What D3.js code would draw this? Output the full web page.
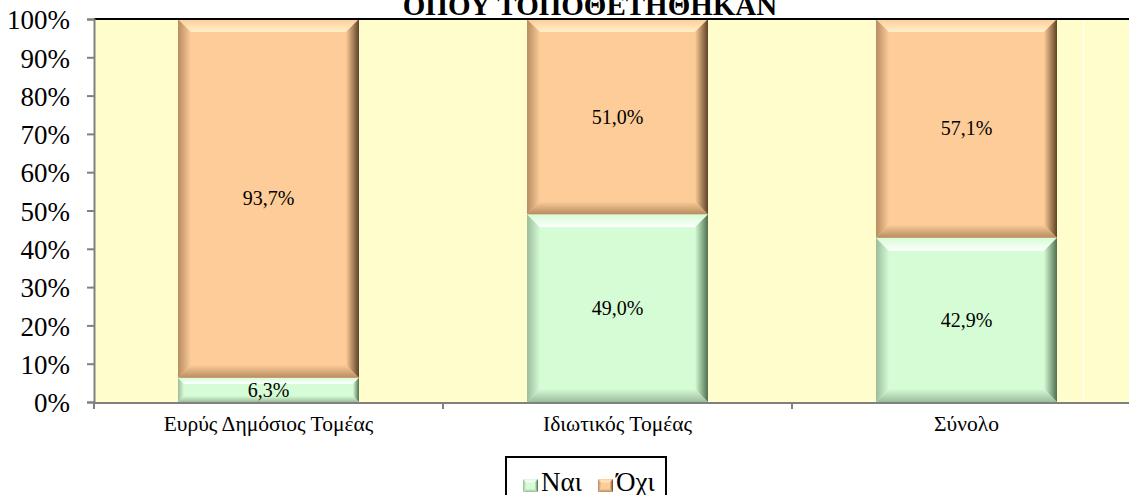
<!DOCTYPE html>
<html><head><meta charset="utf-8">
<script src="https://cdn.jsdelivr.net/npm/d3@7"></script>
<style>body{margin:0;background:#fff;overflow:hidden}svg{display:block}svg text{font-family:"Liberation Serif","Times New Roman",serif}</style>
</head><body><svg id="c" width="1129" height="495"></svg>
<script>
const categories = ["Ευρύς Δημόσιος Τομέας", "Ιδιωτικός Τομέας", "Σύνολο"];
const seriesNames = ["Ναι", "Όχι"];
const yesValues = [6.3, 49.0, 42.9];
const noValues = [93.7, 51.0, 57.1];
const yTicks = [0,10,20,30,40,50,60,70,80,90,100];
const titleText = "ΟΠΟΥ ΤΟΠΟΘΕΤΗΘΗΚΑΝ";

(function(){
const svg = d3.select("#c");
const W = 1129, H = 495;
const pL = 94, pR = 1141, pT = 19, pB = 402;
const x = d3.scaleBand().domain(categories).range([pL, pR]).paddingInner(0.4814).paddingOuter(0.2407);
const y = d3.scaleLinear().domain([0,100]).range([pB, pT]);

const colors = {
  "Ναι": {face:"#d5fcd5", light:"#ffffff", dark:"#4f6f4f", mid:"#9cbc9c"},
  "Όχι": {face:"#fdcc98", light:"#fff0c8", dark:"#5e4226", mid:"#b78c62"}
};
const defs = svg.append("defs");
Object.entries(colors).forEach(([k,c],i)=>{
  const id = "s"+i;
  let g = defs.append("linearGradient").attr("id",id+"top").attr("x1",0).attr("y1",0).attr("x2",0).attr("y2",1);
  g.append("stop").attr("offset","0").attr("stop-color",c.face);
  g.append("stop").attr("offset","1").attr("stop-color",c.light);
  g = defs.append("linearGradient").attr("id",id+"right").attr("x1",0).attr("y1",0).attr("x2",1).attr("y2",0);
  g.append("stop").attr("offset","0").attr("stop-color",c.face);
  g.append("stop").attr("offset","1").attr("stop-color",c.dark);
  g = defs.append("linearGradient").attr("id",id+"bottom").attr("x1",0).attr("y1",0).attr("x2",0).attr("y2",1);
  g.append("stop").attr("offset","0").attr("stop-color",c.face);
  g.append("stop").attr("offset","1").attr("stop-color",c.mid);
  g = defs.append("linearGradient").attr("id",id+"left").attr("x1",0).attr("y1",0).attr("x2",1).attr("y2",0);
  g.append("stop").attr("offset","0").attr("stop-color",c.mid);
  g.append("stop").attr("offset","1").attr("stop-color",c.face);
});

svg.append("rect").attr("x",pL).attr("y",pT).attr("width",W-pL).attr("height",pB-pT).attr("fill","#fffdcc");
svg.append("line").attr("x1",1083.5).attr("x2",1083.5).attr("y1",pT).attr("y2",pB).attr("stroke","#ffffff").attr("stroke-width",1);

svg.append("text").attr("x",590).attr("y",15).attr("text-anchor","middle").attr("font-size",29).attr("font-weight","bold").text(titleText);

const rows = categories.map((c,i)=>({cat:c, "Ναι":yesValues[i], "Όχι":noValues[i]}));
const stack = d3.stack().keys(seriesNames)(rows);

function bevelBar(g, x0, y0, w, h, key, bmax){
  const id = "s"+seriesNames.indexOf(key);
  const c = colors[key];
  const b = Math.min(bmax||13, h/4);
  g.append("rect").attr("x",x0).attr("y",y0).attr("width",w).attr("height",h).attr("fill",c.face);
  const poly = (pts, fill)=>g.append("polygon").attr("points",pts.map(p=>p.join(",")).join(" ")).attr("fill",fill);
  poly([[x0,y0],[x0+b,y0+b],[x0+b,y0+h-b],[x0,y0+h]], `url(#${id}left)`);
  poly([[x0,y0+h],[x0+w,y0+h],[x0+w-b,y0+h-b],[x0+b,y0+h-b]], `url(#${id}bottom)`);
  poly([[x0,y0],[x0+w,y0],[x0+w-b,y0+b],[x0+b,y0+b]], `url(#${id}top)`);
  poly([[x0+w,y0],[x0+w-b,y0+b],[x0+w-b,y0+h-b],[x0+w,y0+h]], `url(#${id}right)`);
}

stack.forEach(s=>{
  const g = svg.append("g");
  s.forEach(d=>{
    const x0 = x(d.data.cat), y0 = y(d[1]), h = y(d[0]) - y(d[1]);
    bevelBar(g, x0, y0, x.bandwidth(), h, s.key);
  });
});
stack.forEach(s=>{
  s.forEach(d=>{
    const v = d[1]-d[0];
    svg.append("text").attr("x",x(d.data.cat)+x.bandwidth()/2).attr("y",(y(d[0])+y(d[1]))/2+7)
      .attr("text-anchor","middle").attr("font-size",20).attr("fill","#000")
      .text(v.toFixed(1).replace(".",",")+"%");
  });
});

svg.append("line").attr("x1",pL).attr("x2",W).attr("y1",pT).attr("y2",pT).attr("stroke","#000").attr("stroke-width",2);

const yAxis = d3.axisLeft(y).tickValues(yTicks).tickFormat(d=>d+"%").tickSize(7).tickPadding(17);
const ya = svg.append("g").attr("transform",`translate(${pL},0)`).call(yAxis);
ya.attr("font-family",null);
ya.select(".domain").attr("stroke","#808080").attr("stroke-width",2);
ya.selectAll(".tick line").attr("stroke","#808080").attr("stroke-width",2);
ya.selectAll(".tick text").attr("font-size",27).attr("fill","#000").attr("dy","0.36em");

const xa = svg.append("g").attr("transform",`translate(0,${pB})`).call(d3.axisBottom(x).tickSize(0).tickPadding(14));
xa.attr("font-family",null);
xa.select(".domain").remove();
xa.selectAll(".tick text").attr("font-size",21.5).attr("fill","#000");
svg.append("line").attr("x1",pL).attr("x2",W).attr("y1",pB+1).attr("y2",pB+1).attr("stroke","#808080").attr("stroke-width",2);
const boundaries = [pL].concat(categories.map(c=>x(c)-x.step()*x.paddingInner()/2).slice(1));
svg.selectAll(".bt").data(boundaries).enter().append("line").attr("x1",d=>d).attr("x2",d=>d).attr("y1",pB).attr("y2",pB+7).attr("stroke","#808080").attr("stroke-width",2);

const lg = svg.append("g");
lg.append("rect").attr("x",506).attr("y",457).attr("width",160).attr("height",50).attr("fill","#fff").attr("stroke","#000").attr("stroke-width",2);
const lx = [523, 598];
seriesNames.forEach((k,i)=>{
  bevelBar(lg, lx[i], 479, 15, 13, k, 5);
  lg.append("text").attr("x",lx[i]+18).attr("y",491).attr("font-size",27).attr("fill","#000").text(k);
});
})();
</script></body></html>
